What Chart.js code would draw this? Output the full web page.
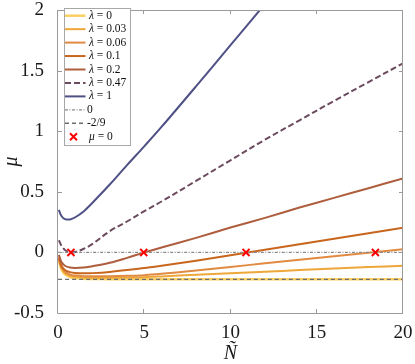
<!DOCTYPE html>
<html>
<head>
<meta charset="utf-8">
<script src="https://cdn.jsdelivr.net/npm/chart.js@4"></script>
<style>
  html, body { margin: 0; padding: 0; background: #fff; }
</style>
</head>
<body>
<canvas id="myChart" width="415" height="364"></canvas>
<script>
// N tilde sample points
var nTilde = [0.05, 0.2, 0.4, 0.7, 1, 1.5, 2, 3, 4, 5, 6, 8, 10, 12, 14, 16, 18, 20];

// mu for each lambda
var muL0   = [-0.07, -0.14, -0.18, -0.203, -0.212, -0.217, -0.219, -0.221, -0.222, -0.222, -0.222, -0.222, -0.222, -0.222, -0.222, -0.222, -0.222, -0.222];
var muL003 = [-0.06, -0.13, -0.17, -0.193, -0.202, -0.207, -0.209, -0.209, -0.207, -0.204, -0.198, -0.185, -0.172, -0.159, -0.146, -0.133, -0.121, -0.11];
var muL006 = [-0.05, -0.12, -0.16, -0.183, -0.191, -0.196, -0.197, -0.196, -0.193, -0.188, -0.177, -0.15, -0.12, -0.09, -0.06, -0.031, -0.003, 0.025];
var muL01  = [-0.04, -0.11, -0.145, -0.163, -0.17, -0.173, -0.171, -0.161, -0.146, -0.128, -0.11, -0.068, -0.023, 0.022, 0.067, 0.112, 0.158, 0.203];
var muL02  = [-0.02, -0.08, -0.11, -0.125, -0.128, -0.124, -0.114, -0.086, -0.045, 0.0, 0.04, 0.12, 0.205, 0.285, 0.37, 0.45, 0.53, 0.61];
var muL047 = [0.1, 0.055, 0.02, 0.001, 0.004, 0.03, 0.07, 0.175, 0.255, 0.34, 0.42, 0.59, 0.76, 0.93, 1.09, 1.25, 1.405, 1.56];
var muL1   = [0.35, 0.3, 0.275, 0.272, 0.29, 0.34, 0.41, 0.56, 0.72, 0.875, 1.035, 1.37, 1.71, 2.05, 2.39, 2.73, 3.07, 3.41];

// where mu = 0
var zeroN = [0.75, 4.97, 10.9, 18.4];

var refRange = [0, 20];
var refZero = 0;
var refTwoNinths = -2 / 9;

var xTicks = [0, 5, 10, 15, 20];
var yTicks = [-0.5, 0, 0.5, 1, 1.5, 2];

function pts(ys) {
    return nTilde.map(function (n, i) { return { x: n, y: ys[i] }; });
}
function hline(v) {
    return refRange.map(function (n) { return { x: n, y: v }; });
}

var serif = "'Liberation Serif', 'Times New Roman', serif";

var datasets = [
    { label: 'μ = 0', greek: 'μ', rest: ' = 0', data: zeroN.map(function (n) { return { x: n, y: 0 }; }),
      showLine: false, pointStyle: 'crossRot', pointRadius: 5, borderColor: '#ff0000', backgroundColor: '#ff0000',
      pointBorderWidth: 2, order: 0, marker: true },
    { label: '-2/9', rest: '-2/9', data: hline(refTwoNinths), borderColor: '#6e6e6e', borderWidth: 1.4,
      borderDash: [4, 3], pointRadius: 0, order: 1 },
    { label: '0', rest: '0', data: hline(refZero), borderColor: '#8a8a8a', borderWidth: 1.2,
      borderDash: [3, 1.5, 1, 1.5], pointRadius: 0, order: 2 },
    { label: 'λ = 0', greek: 'λ', rest: ' = 0', data: pts(muL0), borderColor: '#fbd061', borderWidth: 2.5, order: 9 },
    { label: 'λ = 0.03', greek: 'λ', rest: ' = 0.03', data: pts(muL003), borderColor: '#eea73a', borderWidth: 2, order: 8 },
    { label: 'λ = 0.06', greek: 'λ', rest: ' = 0.06', data: pts(muL006), borderColor: '#e08a42', borderWidth: 2, order: 7 },
    { label: 'λ = 0.1', greek: 'λ', rest: ' = 0.1', data: pts(muL01), borderColor: '#c9661e', borderWidth: 2, order: 6 },
    { label: 'λ = 0.2', greek: 'λ', rest: ' = 0.2', data: pts(muL02), borderColor: '#ae5e3d', borderWidth: 2, order: 5 },
    { label: 'λ = 0.47', greek: 'λ', rest: ' = 0.47', data: pts(muL047), borderColor: '#6d4b5f', borderWidth: 2,
      borderDash: [6, 3], order: 4 },
    { label: 'λ = 1', greek: 'λ', rest: ' = 1', data: pts(muL1), borderColor: '#4f5086', borderWidth: 2, order: 3 }
];
datasets.forEach(function (d) {
    if (!d.marker) { d.pointRadius = 0; d.tension = 0.35; d.fill = false; }
});

// legend order as in the figure
var legendOrder = ['λ = 0', 'λ = 0.03', 'λ = 0.06', 'λ = 0.1', 'λ = 0.2', 'λ = 0.47', 'λ = 1', '0', '-2/9', 'μ = 0'];

var framePlugin = {
    id: 'frame',
    afterDatasetsDraw: function (chart) {
        var ctx = chart.ctx, a = chart.chartArea;
        var xs = chart.scales.x, ys = chart.scales.y;
        ctx.save();
        ctx.strokeStyle = '#9a9a9a';
        ctx.lineWidth = 1;
        ctx.beginPath();
        ctx.rect(Math.round(a.left) - 0.5, Math.round(a.top) + 0.5, Math.round(a.right - a.left), Math.round(a.bottom - a.top));
        ctx.stroke();
        ctx.beginPath();
        xTicks.forEach(function (t) {
            var p = Math.round(xs.getPixelForValue(t)) - 0.5;
            ctx.moveTo(p, a.bottom); ctx.lineTo(p, a.bottom - 4);
            ctx.moveTo(p, a.top); ctx.lineTo(p, a.top + 4);
        });
        yTicks.forEach(function (t) {
            var p = Math.round(ys.getPixelForValue(t)) + 0.5;
            ctx.moveTo(a.left, p); ctx.lineTo(a.left + 4, p);
            ctx.moveTo(a.right, p); ctx.lineTo(a.right - 4, p);
        });
        ctx.stroke();
        ctx.restore();
    },
    afterDraw: function (chart) {
        var ctx = chart.ctx;
        var bx = 64.5, by = 8.5, bw = 66, bh = 137;
        ctx.save();
        ctx.fillStyle = '#ffffff';
        ctx.fillRect(bx, by, bw, bh);
        ctx.strokeStyle = '#a8a8a8';
        ctx.lineWidth = 1;
        ctx.strokeRect(bx, by, bw, bh);
        legendOrder.forEach(function (lab, i) {
            var d = chart.data.datasets.filter(function (s) { return s.label === lab; })[0];
            var y = 15.7 + i * 13.45;
            if (d.marker) {
                ctx.strokeStyle = d.borderColor;
                ctx.lineWidth = 2;
                ctx.beginPath();
                ctx.moveTo(70, y - 3.5); ctx.lineTo(77, y + 3.5);
                ctx.moveTo(77, y - 3.5); ctx.lineTo(70, y + 3.5);
                ctx.stroke();
            } else {
                ctx.strokeStyle = d.borderColor;
                ctx.lineWidth = d.borderWidth;
                ctx.setLineDash(d.borderDash || []);
                ctx.beginPath();
                ctx.moveTo(65, y); ctx.lineTo(85.5, y);
                ctx.stroke();
                ctx.setLineDash([]);
            }
            ctx.fillStyle = '#111';
            ctx.textBaseline = 'middle';
            var x = 87;
            if (d.greek) {
                x = 89;
                ctx.font = 'italic 11.5px ' + serif;
                ctx.fillText(d.greek, x, y);
                x += ctx.measureText(d.greek).width;
            }
            ctx.font = '11.5px ' + serif;
            ctx.fillText(d.rest, x, y);
        });
        ctx.restore();
    }
};

function plainLabel(v) { return String(v); }

var ctx = document.getElementById('myChart').getContext('2d');
var myChart = new Chart(ctx, {
    type: 'line',
    data: { datasets: datasets },
    plugins: [framePlugin],
    options: {
        responsive: false,
        animation: false,
        layout: { padding: { top: 10, right: 12, left: 0, bottom: 0 } },
        plugins: { legend: { display: false }, tooltip: { enabled: false } },
        scales: {
            x: {
                type: 'linear', min: 0, max: 20,
                afterBuildTicks: function (s) { s.ticks = xTicks.map(function (v) { return { value: v }; }); },
                ticks: { color: '#1a1a1a', font: { family: serif, size: 19 }, padding: 1, maxRotation: 0, callback: plainLabel },
                grid: { display: false }, border: { display: false },
                title: { display: true, text: 'Ñ', color: '#1a1a1a', padding: 0,
                         font: { family: serif, size: 20, style: 'italic', lineHeight: 1 } },
                afterFit: function (s) { s.height = 51; s.paddingLeft = 0; s.paddingRight = 0; }
            },
            y: {
                type: 'linear', min: -0.5, max: 2,
                afterBuildTicks: function (s) { s.ticks = yTicks.map(function (v) { return { value: v }; }); },
                ticks: { color: '#1a1a1a', font: { family: serif, size: 19 }, padding: 6, callback: plainLabel },
                grid: { display: false }, border: { display: false },
                title: { display: true, text: 'μ', color: '#1a1a1a', padding: 0,
                         font: { family: serif, size: 20, style: 'italic', lineHeight: 1.2 } },
                afterFit: function (s) { s.width = 58; s.paddingTop = 0; s.paddingBottom = 0; }
            }
        }
    }
});
</script>
</body>
</html>
